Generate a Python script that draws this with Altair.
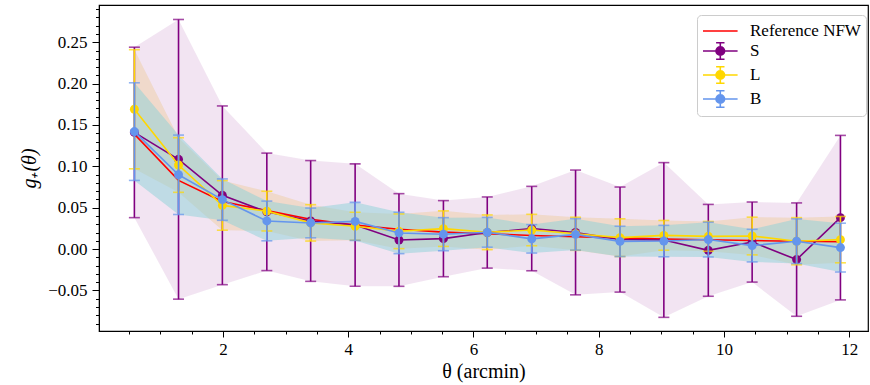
import altair as alt
import pandas as pd

# ---------------- data ----------------
theta = [0.585, 1.29, 1.99, 2.70, 3.40, 4.11, 4.81, 5.52, 6.22, 6.93,
         7.63, 8.34, 9.04, 9.75, 10.45, 11.16, 11.86]

nfw = [0.139, 0.083, 0.0575, 0.0465, 0.036, 0.029, 0.024, 0.0205, 0.0185,
       0.0165, 0.0150, 0.0135, 0.0122, 0.0112, 0.0103, 0.0095, 0.0088]

S_val = [0.141, 0.1085, 0.065, 0.045, 0.034, 0.029, 0.011, 0.0126, 0.020,
         0.0248, 0.0201, 0.0115, 0.011, -0.0015, 0.0085, -0.0127, 0.038]
S_err = [0.103, 0.169, 0.108, 0.071, 0.073, 0.074, 0.056, 0.046, 0.043,
         0.051, 0.0754, 0.0635, 0.0935, 0.0555, 0.0484, 0.0685, 0.0994]

L_val = [0.169, 0.1016, 0.0528, 0.0459, 0.0317, 0.0276, 0.0215, 0.0247, 0.0203,
         0.023, 0.0185, 0.0138, 0.0166, 0.0154, 0.0158, 0.0095, 0.0114]
L_err = [0.072, 0.033, 0.030, 0.024, 0.022, 0.017, 0.021, 0.0215, 0.021,
         0.019, 0.020, 0.0228, 0.018, 0.018, 0.0228, 0.0285, 0.028]

B_val = [0.142, 0.0898, 0.0598, 0.034, 0.0316, 0.0335, 0.0195, 0.018, 0.0203,
         0.0124, 0.0178, 0.0093, 0.0097, 0.0115, 0.0042, 0.0095, 0.0018]
B_err = [0.059, 0.048, 0.025, 0.024, 0.018, 0.023, 0.025, 0.020, 0.018,
         0.0172, 0.019, 0.0183, 0.019, 0.021, 0.0197, 0.027, 0.0295]

legend_names = ["Reference NFW", "S", "L", "B"]

# axis tick positions (major + minor)
x_ticks = [0.5, 1.0, 1.5, 2.0, 2.5, 3.0, 3.5, 4.0, 4.5, 5.0, 5.5, 6.0,
           6.5, 7.0, 7.5, 8.0, 8.5, 9.0, 9.5, 10.0, 10.5, 11.0, 11.5, 12.0]
y_ticks = [round(i * 0.01, 2) for i in range(-9, 30)]

# ---------------- styling ----------------
FONT = "Liberation Serif"
C_S, C_L, C_B, C_REF = "#800080", "#FFD700", "#6495ED", "#FF0000"
BAND = {"S": ("#800080", 0.105), "L": ("#E8B040", 0.22), "B": ("#8CD2D7", 0.5)}

x_scale = alt.Scale(domain=[0.02, 12.3], nice=False, zero=False)
y_scale = alt.Scale(domain=[-0.099, 0.295], nice=False, zero=False)

x_axis = alt.Axis(
    values=x_ticks,
    labelExpr="datum.value % 2 == 0 ? format(datum.value, 'd') : ''",
    tickSize={"condition": {"test": "datum.value % 2 != 0", "value": 3}, "value": 6},
    tickWidth=1, labelPadding=4, grid=False, titlePadding=4,
    domainColor="black", tickColor="black", labelColor="black",
    labelFont=FONT, labelFontSize=17, titleFont=FONT, titleFontSize=20,
    titleFontWeight="normal", titleColor="black",
)
y_axis = alt.Axis(
    values=y_ticks,
    labelExpr="round(datum.value*100) % 5 == 0 ? format(datum.value, '.2f') : ''",
    tickSize={"condition": {"test": "round(datum.value*100) % 5 != 0", "value": 3.5}, "value": 7},
    tickWidth=1, labelPadding=5, grid=False, titlePadding=8,
    domainColor="black", tickColor="black", labelColor="black",
    labelFont=FONT, labelFontSize=17, titleFont=FONT, titleFontSize=20,
    titleFontWeight="normal", titleColor="black", titleFontStyle="italic",
)

X = alt.X("x:Q", scale=x_scale, axis=x_axis, title="θ (arcmin)")


def Y(field):
    return alt.Y(f"{field}:Q", scale=y_scale, axis=y_axis, title="g₊(θ)")


series = {
    "S": (S_val, S_err, C_S),
    "L": (L_val, L_err, C_L),
    "B": (B_val, B_err, C_B),
}

frames = {}
for name, (vals, errs, _) in series.items():
    frames[name] = pd.DataFrame({
        "x": theta,
        "val": vals,
        "lo": [v - e for v, e in zip(vals, errs)],
        "hi": [v + e for v, e in zip(vals, errs)],
    })

layers = []
# shaded bands
for name in ["S", "L", "B"]:
    col, op = BAND[name]
    layers.append(
        alt.Chart(frames[name]).mark_area(color=col, opacity=op).encode(
            x=X, y=Y("lo"), y2="hi"
        )
    )

# reference NFW
ref_df = pd.DataFrame({"x": theta, "nfw": nfw})
layers.append(
    alt.Chart(ref_df).mark_line(color=C_REF, strokeWidth=1.6).encode(x=X, y=Y("nfw"))
)

# series with error bars
for name in ["S", "L", "B"]:
    vals, errs, col = series[name]
    d = frames[name]
    layers.append(alt.Chart(d).mark_rule(color=col, strokeWidth=1.6).encode(x=X, y=Y("lo"), y2="hi"))
    layers.append(alt.Chart(d).mark_tick(color=col, orient="horizontal", size=11, thickness=1.6).encode(x=X, y=Y("lo")))
    layers.append(alt.Chart(d).mark_tick(color=col, orient="horizontal", size=11, thickness=1.6).encode(x=X, y=Y("hi")))
    layers.append(alt.Chart(d).mark_line(color=col, strokeWidth=1.6).encode(x=X, y=Y("val")))
    layers.append(alt.Chart(d).mark_point(color=col, filled=True, opacity=1, size=80, shape="circle").encode(x=X, y=Y("val")))

# legend (custom glyphs: line, and errorbar + marker)
glyph_line = "M-1,0L2.46,0"
glyph_err = ("M-1,0L2.46,0 M0.73,-0.83L0.73,0.83 M0.31,-0.83L1.15,-0.83 "
             "M0.31,0.83L1.15,0.83 M1.16,0A0.43,0.43 0 1,1 0.30,0A0.43,0.43 0 1,1 1.16,0Z")

leg = alt.Legend(
    title=None, orient="none", legendX=598, legendY=10,
    fillColor="white", strokeColor="#cccccc", cornerRadius=4, padding=5,
    labelFont=FONT, labelFontSize=17, labelColor="black", labelOffset=26,
    symbolSize=400, rowPadding=0, symbolStrokeWidth=1.6, symbolOpacity=1,
)
pal = alt.Scale(domain=legend_names, range=[C_REF, C_S, C_L, C_B])
leg_df = pd.DataFrame({"series": legend_names, "x": [theta[0]] * 4, "nfw": [nfw[0]] * 4})
layers.append(
    alt.Chart(leg_df).mark_point(size=0, filled=True, strokeWidth=1.6).encode(
        x=X, y=Y("nfw"),
        fill=alt.Fill("series:N", scale=pal, legend=leg),
        stroke=alt.Stroke("series:N", scale=pal, legend=leg),
        shape=alt.Shape("series:N", scale=alt.Scale(domain=legend_names, range=[glyph_line, glyph_err, glyph_err, glyph_err]), legend=leg),
    )
)

chart = alt.layer(*layers).properties(
    width=769, height=326,
    background="white",
    autosize=alt.AutoSizeParams(type="none"),
    padding={"left": 99, "top": 5, "right": 2, "bottom": 54},
).configure_view(
    stroke="black", strokeWidth=1.2
)

chart.save("out.html", embed_options={"renderer": "svg", "actions": False})
